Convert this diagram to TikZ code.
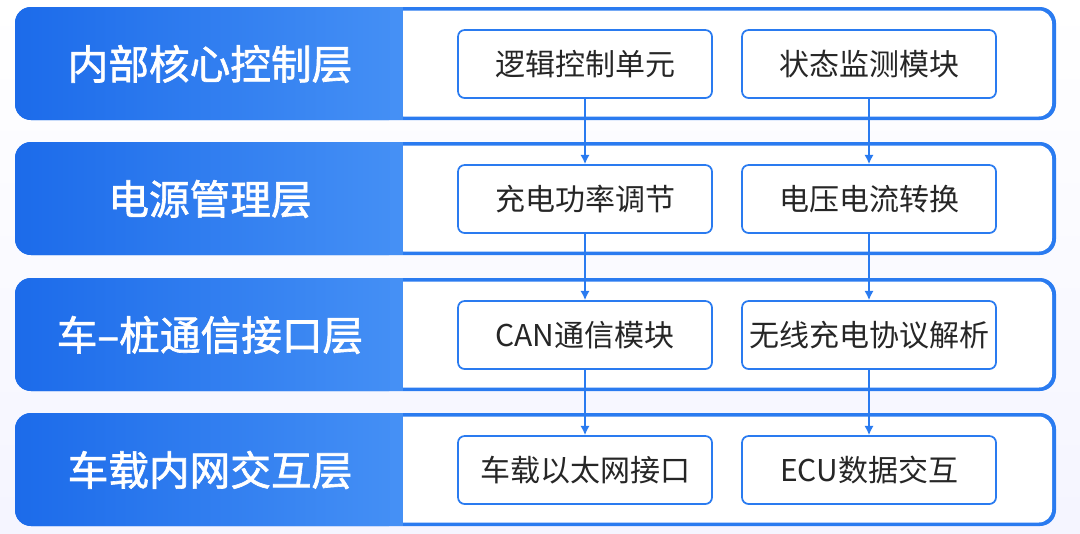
\documentclass[tikz,border=0pt]{standalone}
\usepackage{fontspec}
\setmainfont{Noto Sans CJK SC}
\newfontfamily\lblfont[FakeBold=1.6]{Noto Sans CJK SC}
\begin{document}
\begin{tikzpicture}[x=0.75pt,y=-0.75pt,
  box/.style={draw=bblue,line width=1.3pt,fill=white,rounded corners=5pt,minimum width=190.5pt,minimum height=51pt,font=\fontsize{22.5}{26}\selectfont,text=black!85},
  lbl/.style={text=white,font=\lblfont\fontsize{30.5}{34}\selectfont},
  arr/.style={draw=bblue,line width=1.2pt,-{Latex[length=7pt,width=7pt]}}]
\usetikzlibrary{arrows.meta}
\definecolor{bblue}{HTML}{2A7BF0}
\definecolor{dblue}{HTML}{1C6BEA}
\definecolor{lblue}{HTML}{4590F5}
\useasboundingbox (0,0) rectangle (1080,533);
\fill[top color=white,bottom color={blue!4!white}] (0,0) rectangle (1080,533);
\foreach \t/\n/\a/\b/\c in {7/1/内部核心控制层/逻辑控制单元/状态监测模块,142/2/电源管理层/充电功率调节/电压电流转换,278/3/车–桩通信接口层/CAN通信模块/无线充电协议解析,413/4/车载内网交互层/车载以太网接口/ECU数据交互}{
  \fill[bblue,rounded corners=12pt] (15,\t) rectangle (1056,\t+113);
  \shade[left color=dblue,right color=lblue,rounded corners=12pt] (15,\t) rectangle (405,\t+113);
  \fill[white,rounded corners=10pt] (390,\t+3.5) rectangle (1052,\t+109.5);
  \fill[lblue] (390,\t) rectangle (403,\t+113);
  \node[lbl] (L\n) at (210,\t+57) {\a};
  \node[box] (A\n) at (585,\t+57) {\b};
  \node[box] (B\n) at (869,\t+57) {\c};
}
\foreach \i/\j in {1/2,2/3,3/4}{
  \draw[arr] (A\i) -- (A\j);
  \draw[arr] (B\i) -- (B\j);
}
\end{tikzpicture}
\end{document}
